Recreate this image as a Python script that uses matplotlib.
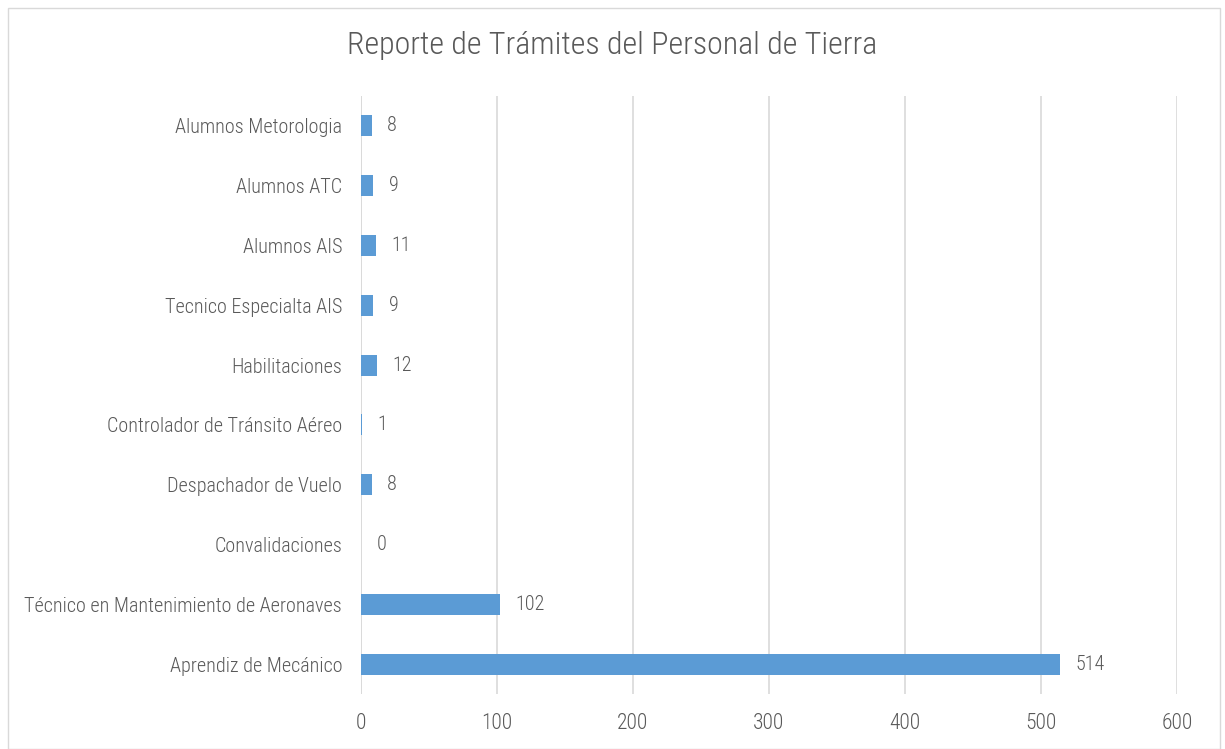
import matplotlib
matplotlib.use("Agg")
from matplotlib import pyplot as plt
from matplotlib.patches import Rectangle

# data (bottom to top, as drawn)
categories = [
    "Aprendiz de Mecánico",
    "Técnico en Mantenimiento de Aeronaves",
    "Convalidaciones",
    "Despachador de Vuelo",
    "Controlador de Tránsito Aéreo",
    "Habilitaciones",
    "Tecnico Especialta AIS",
    "Alumnos AIS",
    "Alumnos ATC",
    "Alumnos Metorologia",
]
values = [514, 102, 0, 8, 1, 12, 9, 11, 9, 8]
xticks = [0, 100, 200, 300, 400, 500, 600]

plt.rcParams['font.family'] = ['Roboto Condensed', 'DejaVu Sans']
plt.rcParams['font.weight'] = 'light'
text_col = '#595959'
bar_col = '#5B9BD5'
grid_col = '#D9D9D9'

fig = plt.figure(figsize=(12.25, 7.49), dpi=100)
ax = fig.add_axes([361/1225, 1-694/749, (1177-361)/1225, (694-96)/749])

# outer chart border
fig.patches.append(Rectangle((8/1225, 0), 1212/1225, 1-8/749, transform=fig.transFigure,
                             fill=False, edgecolor=grid_col, linewidth=1))

ypos = list(range(len(categories)))
ax.barh(ypos, values, height=0.35, color=bar_col, zorder=3)

for y, v in zip(ypos, values):
    ax.annotate(str(v), (v, y), xytext=(11, 0), textcoords='offset points',
                va='center', ha='left', fontsize=14.5, color=text_col)

ax.set_xlim(0, 600)
ax.set_ylim(-0.5, len(categories) - 0.5)
ax.set_xticks(xticks)
ax.set_yticks(ypos)
ax.set_yticklabels(categories)
ax.xaxis.grid(True, color=grid_col, linewidth=1.2, zorder=0)
ax.tick_params(axis='both', length=0, colors=text_col)
ax.tick_params(axis='y', labelsize=14.5, pad=13.5)
ax.tick_params(axis='x', labelsize=15.5, pad=14)
for s in ax.spines.values():
    s.set_visible(False)
ax.axvline(0, color=grid_col, linewidth=1.2, zorder=2)

fig.text(0.5, 1-46/749, "Reporte de Trámites del Personal de Tierra", ha='center', va='center',
         fontsize=23, color=text_col)

fig.savefig("out.png", dpi=100)
